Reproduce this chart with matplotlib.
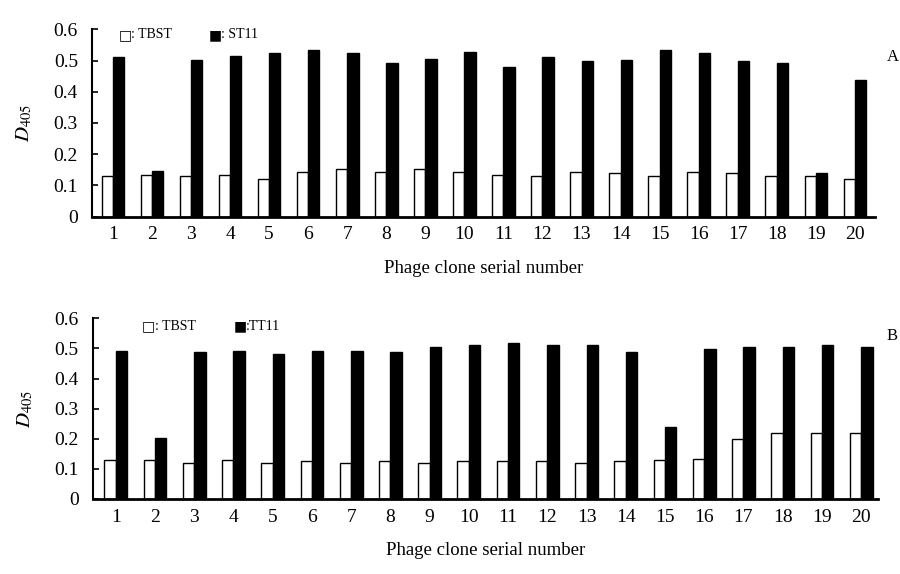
import numpy as np
import matplotlib
matplotlib.use("Agg")
import matplotlib.pyplot as plt

plt.rcParams['font.family'] = ['Liberation Serif', 'DejaVu Sans']
plt.rcParams['mathtext.fontset'] = 'stix'

clones = list(range(1, 21))

# panel A
tbst_a = [0.131, 0.133, 0.131, 0.135, 0.121, 0.143, 0.153, 0.143, 0.153, 0.143,
          0.135, 0.131, 0.143, 0.139, 0.130, 0.143, 0.139, 0.131, 0.131, 0.120]
st11_a = [0.510, 0.147, 0.501, 0.516, 0.525, 0.534, 0.525, 0.493, 0.506, 0.528,
          0.480, 0.511, 0.499, 0.502, 0.534, 0.525, 0.497, 0.493, 0.139, 0.438]

# panel B
tbst_b = [0.130, 0.130, 0.121, 0.130, 0.121, 0.125, 0.121, 0.125, 0.121, 0.125,
          0.125, 0.125, 0.121, 0.125, 0.130, 0.134, 0.199, 0.218, 0.218, 0.218]
tt11_b = [0.493, 0.202, 0.489, 0.493, 0.481, 0.493, 0.493, 0.489, 0.503, 0.512,
          0.517, 0.512, 0.512, 0.488, 0.238, 0.497, 0.506, 0.506, 0.512, 0.503]

yticks = [0, 0.1, 0.2, 0.3, 0.4, 0.5, 0.6]
ytick_labels = ['0', '0.1', '0.2', '0.3', '0.4', '0.5', '0.6']

fig = plt.figure(figsize=(9, 5.74), dpi=100)
ax_a = fig.add_axes([0.102, 0.6225, 0.870, 0.3265])
ax_b = fig.add_axes([0.103, 0.1307, 0.8726, 0.3148])

w = 0.29
x = np.array(clones)

def draw_panel(ax, white_vals, black_vals, xlim, names, leg_x, leg_y):
    ax.bar(x - w / 2, white_vals, width=w, color='white', edgecolor='black', linewidth=1.0)
    ax.bar(x + w / 2, black_vals, width=w, color='black', edgecolor='black', linewidth=1.0)
    ax.set_xlim(*xlim)
    ax.set_ylim(0, 0.6)
    ax.set_yticks(yticks)
    ax.set_yticklabels(ytick_labels)
    ax.set_xticks(x)
    ax.set_xticklabels([str(c) for c in clones])
    for s in ['top', 'right']:
        ax.spines[s].set_visible(False)
    ax.spines['left'].set_linewidth(1.5)
    ax.spines['bottom'].set_linewidth(2)
    ax.tick_params(axis='y', direction='in', length=4, width=1.2, pad=10, labelsize=14)
    ax.tick_params(axis='x', length=0, pad=7, labelsize=14)
    ax.set_ylabel(r'$D_{405}$', fontsize=15, labelpad=14)
    ax.set_xlabel('Phage clone serial number', fontsize=13.5, labelpad=12)
    # hand-made legend: square glyph + label
    for sym, name, xs in zip(['\u25a1', '\u25a0'], names, leg_x):
        ax.text(xs, leg_y, sym, transform=ax.transAxes, fontsize=10, va='center',
                family='DejaVu Sans')
        ax.text(xs + 0.016, leg_y, name, transform=ax.transAxes, fontsize=10, va='center')

draw_panel(ax_a, tbst_a, st11_a, (0.46, 20.51), [': TBST', ': ST11'],
           [0.034, 0.149], 0.97)
draw_panel(ax_b, tbst_b, tt11_b, (0.413, 20.43), [': TBST', ':TT11'],
           [0.063, 0.179], 0.957)

fig.text(0.985, 0.9, 'A', fontsize=12, va='center')
fig.text(0.985, 0.415, 'B', fontsize=12, va='center')

fig.savefig('out.png', dpi=100)
